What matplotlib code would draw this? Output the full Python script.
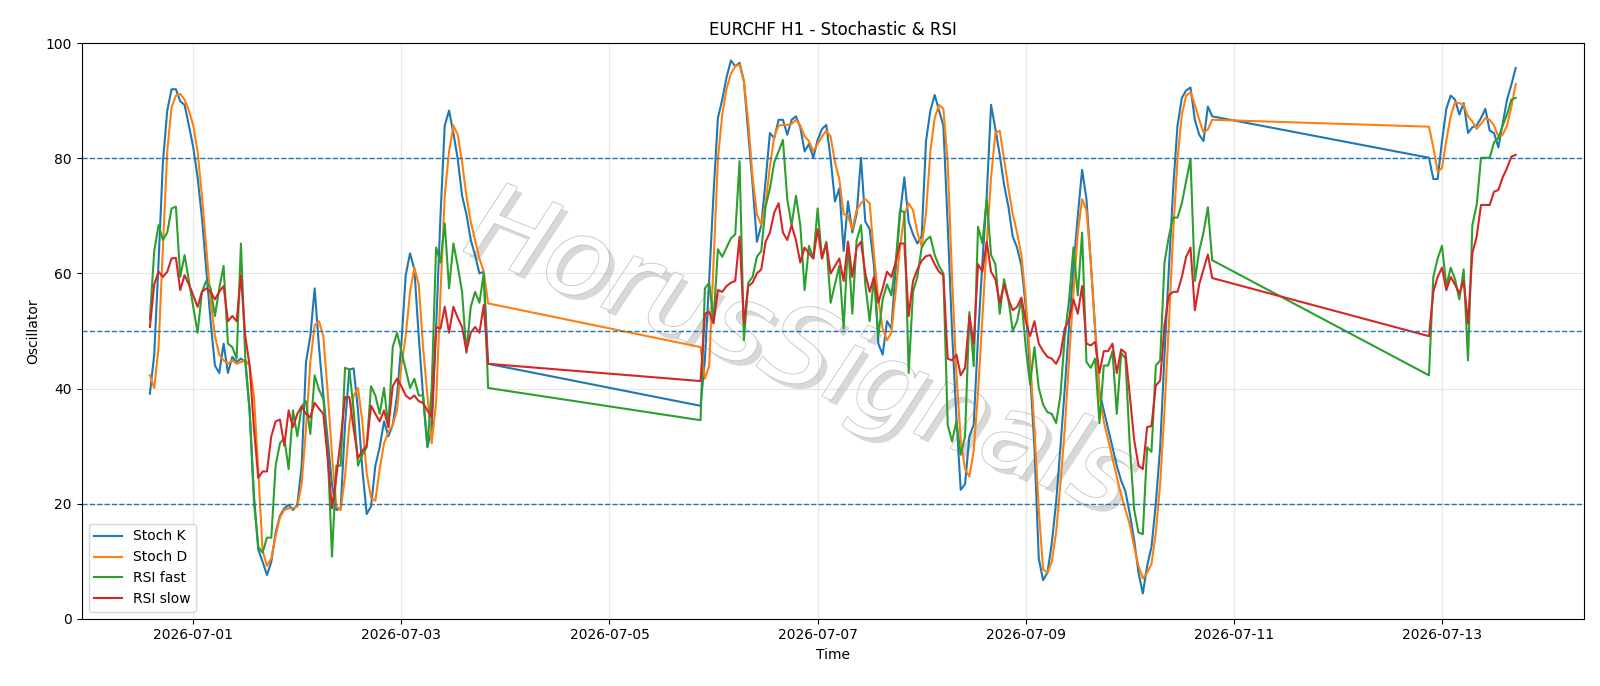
import pandas as pd
import matplotlib
matplotlib.use("Agg")
import matplotlib.pyplot as plt
import matplotlib.dates as mdates
import matplotlib.patheffects as pe

# hourly bars, three trading blocks (weekend gaps in between)
seg1_time = pd.date_range("2026-06-30 14:00", "2026-07-03 20:00", freq="h")
seg2_time = pd.date_range("2026-07-05 21:00", "2026-07-10 19:00", freq="h")
seg3_time = pd.date_range("2026-07-12 21:00", "2026-07-13 17:00", freq="h")

# Stoch K
stoch_k_1 = [39.1, 45.9, 62, 79.3, 88.3, 92, 92, 89.9, 89.3, 85.7, 81.9, 76.7, 69.7, 60.7, 51.7, 44, 42.7, 47.8, 42.7, 45.5,
             44.6, 45.2, 44.6, 36.2, 21.5, 12, 9.9, 7.6, 9.9, 15, 17.9, 19.2, 19.8, 18.9, 19.8, 26.6, 44.6, 49.1, 57.4, 47.2,
             38.8, 31.1, 23.4, 18.9, 19.2, 33.7, 43.3, 43.5, 36.2, 26, 18.2, 19.5, 26.6, 29.8, 34.3, 31.7, 33.7, 38.8, 47.8, 59.7,
             63.5, 60.7, 49.1, 38.8, 29.8, 33, 50.4, 69.7, 85.7, 88.3, 84.4, 79.9, 73.5, 70.3, 65.8, 63.2, 60, 60.3, 44.3]
stoch_k_2 = [37, 45, 59, 74, 87, 90.2, 94.1, 97, 96, 96.6, 93.4, 84.4, 75.4, 65.5, 68.4, 76.1, 84.4, 83.5, 86.7, 86.7,
             84.1, 86.7, 87.3, 85.4, 81.2, 82.5, 80.1, 83.2, 85.1, 85.8, 79.9, 72.5, 74.8, 63.9, 72.5, 67.1, 70.3, 80.1, 69, 67.7,
             61.3, 47.8, 45.9, 51.7, 50.4, 60.7, 70.3, 76.7, 69, 66.8, 65.2, 66.5, 83, 88.3, 91, 88.3, 85.7, 68.4, 50, 35,
             22.4, 23.4, 31.7, 33.7, 49.1, 61.9, 73.5, 89.3, 85.1, 80.6, 75.4, 71.6, 66.4, 64.5, 61.3, 54.2, 42.7, 29.8, 10.5, 6.7,
             8, 13.1, 20.2, 29.8, 40, 51, 61, 70, 78, 72.9, 61.9, 50.4, 39.4, 36.2, 33, 29.8, 26.6, 24, 22.1, 18.2,
             13.7, 8, 4.4, 9.2, 12.5, 20, 29.8, 45.9, 60.7, 74.8, 85.7, 90.5, 91.8, 92.3, 86.7, 84.1, 83, 89, 87.3]
stoch_k_3 = [80.1, 76.4, 76.4, 83, 88.6, 90.9, 90.2, 87.6, 89.6, 84.4, 85.4, 85.7, 87, 88.6, 84.8, 84.4, 81.9, 86, 90.2, 92.8,
             95.7]

# Stoch D
stoch_d_1 = [42.3, 40.1, 47.2, 64.5, 81.2, 88.9, 90.9, 91.2, 90.2, 88.3, 85.7, 81.2, 73.5, 64.5, 55.5, 49.1, 45.9, 44.9, 44.3, 44.9,
             44.3, 44.6, 44.9, 44, 38.8, 25.5, 11.8, 9.2, 10.5, 14.4, 17.6, 18.9, 19.2, 19.2, 19.5, 23.4, 33, 44.6, 51, 51.7,
             49.1, 39.4, 28.5, 19.5, 18.9, 24.7, 33.7, 38.8, 40.1, 34.3, 25.3, 21, 20.5, 26, 30.5, 32.4, 33.7, 36.2, 44, 49.1,
             56.8, 61, 58.1, 47.2, 38.8, 30.5, 37.5, 56.2, 73.5, 81.2, 85.7, 84.1, 79.3, 73.5, 69, 65.8, 62.6, 60.3, 54.8]
stoch_d_2 = [47.2, 41.7, 44, 61.9, 79.9, 87.6, 92.1, 94.7, 96, 96.3, 93.4, 86.4, 76.7, 70.3, 68.4, 72.2, 78.6, 83.8, 85.7, 85.8,
             85.8, 86, 86.7, 85.7, 83.8, 83, 81.2, 82.5, 83.8, 84.8, 83.8, 79.3, 76.4, 70.3, 70, 67.7, 71, 72.2, 72.9, 72.2,
             63.2, 55.5, 50.4, 48.4, 49.7, 56.8, 64.5, 70.3, 72.2, 71, 67.1, 64.7, 70.5, 81.2, 87, 89.3, 88.6, 79.3, 59.4, 42.7,
             31.1, 26, 24.7, 29.2, 39.4, 52.3, 65.2, 76.7, 84.4, 84.8, 79.9, 74.8, 70.3, 67.1, 63.2, 55.5, 45.2, 33, 19, 8.6,
             8, 9.9, 15, 23.4, 33, 45.2, 56.8, 67.1, 72.9, 71, 61.9, 50.4, 38.8, 34.3, 31.1, 27.9, 24.7, 21.5, 18.9, 16.3,
             12.5, 9.2, 7, 8, 9.5, 15, 23.4, 36.2, 51, 67.1, 79.9, 87.6, 90.9, 91.5, 89.3, 86.7, 84.5, 85, 86.7]
stoch_d_3 = [85.5, 81.9, 77.7, 78.3, 83.1, 87.3, 89.7, 89.6, 89.3, 87.3, 86.4, 85.1, 86, 87, 86.7, 85.7, 83.8, 84.1, 85.7, 88.9,
             92.9]

# RSI fast
rsi_fast_1 = [52, 63.9, 68.4, 65.8, 67.1, 71.3, 71.6, 59.4, 63.2, 58.7, 54.2, 49.7, 56.8, 58.7, 57.4, 52.6, 57.4, 61.3, 47.8, 47.2,
              45.2, 65.2, 45.2, 36.2, 20.2, 12.5, 11.5, 14.1, 14.1, 26.6, 30.5, 31.4, 26, 36.2, 31.7, 36.9, 37.8, 32.1, 42.3, 39.8,
              38.2, 29.2, 10.8, 26.6, 26.6, 43.6, 43.3, 36.2, 26.6, 28.5, 29.8, 40.4, 38.8, 35.6, 40.1, 33.3, 47.2, 49.7, 46.5, 43.3,
              40.1, 41.7, 38.8, 38.8, 30, 40.1, 64.5, 61.9, 68.7, 57.4, 65.2, 61.3, 56.8, 46.2, 54.2, 56.8, 54.9, 60, 40.1]
rsi_fast_2 = [34.5, 57.4, 58.4, 51.7, 64.2, 62.9, 64.5, 66.1, 66.8, 79.5, 48.4, 58.4, 59.4, 62.9, 63.9, 71.6, 74.8, 79.3, 81.2, 83.2,
              72.9, 68.4, 73.5, 68.4, 57.1, 64.8, 62.6, 71.3, 62.6, 65.5, 54.9, 58.1, 61.3, 50.4, 65.5, 53, 65.8, 68.4, 58.1, 51.7,
              59.4, 49.1, 55.5, 58.1, 56.2, 61.9, 71, 70.6, 42.7, 56.8, 59.4, 64.5, 65.8, 66.4, 63.2, 61.3, 60, 33.7, 30.8, 34.3,
              28.5, 31.7, 53.3, 43.9, 68.1, 65.2, 72.9, 63.2, 61.6, 53, 59, 55.5, 50, 51.7, 55.5, 47.2, 40.7, 47.2, 40.1, 37.2,
              35.9, 35.6, 34, 38.8, 49.1, 55.5, 64.5, 56.2, 67.1, 44.6, 43.6, 45.2, 34, 44, 44, 46.5, 35.6, 46.2, 45.2, 30,
              19, 15, 14.7, 29.8, 29, 44, 44.9, 61.9, 66.4, 69.7, 69.7, 72.2, 76.1, 79.9, 58.7, 63.9, 67.1, 71.5, 62.3]
rsi_fast_3 = [42.3, 59.4, 62.6, 64.8, 57.8, 61, 59, 55.5, 60.7, 44.9, 68.4, 71.9, 80.1, 80.1, 80.1, 82.8, 83.5, 85.7, 87.6, 90.2,
              90.5]

# RSI slow
rsi_slow_1 = [50.7, 58.1, 60.3, 59.4, 60.3, 62.6, 62.7, 57.1, 59.7, 58.1, 56.2, 54.2, 56.8, 57.4, 56.8, 55.5, 56.8, 57.8, 51.7, 52.6,
              51.7, 59.7, 49.1, 44, 33, 24.5, 25.6, 25.6, 31.7, 34.3, 34.6, 30.1, 36.2, 33.3, 35.6, 36.9, 35.6, 35, 37.5, 36.5,
              35.6, 27.9, 19.2, 24.7, 31.1, 38.5, 38.5, 33, 27.9, 29.2, 30.1, 37, 35.6, 34.3, 36.2, 33.3, 40.4, 41.7, 40.4, 38.8,
              38.2, 38.8, 37.8, 37.5, 36.2, 35, 50.7, 50.4, 54.2, 49.7, 54.2, 52.3, 50.7, 46.5, 49.7, 50.7, 49.7, 54.5, 44.3]
rsi_slow_2 = [41.3, 53, 53.3, 51.3, 57.1, 56.8, 57.8, 58.4, 58.7, 66.4, 51.3, 57.8, 58.4, 60, 60.7, 65.5, 67.1, 70.6, 72.2, 67.1,
              65.8, 68.4, 65.8, 61.9, 64.5, 63.5, 62.6, 67.7, 62.6, 65.2, 60, 61.3, 62.6, 58.7, 65.5, 59.4, 64.5, 65.5, 60, 56.8,
              59.4, 54.9, 57.4, 60.3, 59.4, 61.9, 65.2, 65.2, 52.6, 58.7, 60.7, 62.2, 63, 63.2, 61.6, 60.3, 59.7, 45.2, 44.9, 45.9,
              42.3, 43.6, 52.6, 47.8, 61.6, 60.3, 65.5, 60.3, 59, 54.9, 58.1, 55.5, 53.6, 54.2, 55.8, 51.7, 49.1, 51.7, 47.8, 46.5,
              45.5, 45.2, 44.3, 45.9, 50.4, 52, 55.5, 53, 57.8, 47.8, 47.5, 48.1, 42.7, 46.5, 46.5, 47.8, 42.7, 46.8, 46.2, 38.8,
              31.1, 26.6, 26, 33.3, 33.5, 40.5, 41.4, 51, 56.2, 56.8, 56.8, 59.4, 62.9, 64.5, 53.6, 58.1, 60.7, 63.3, 59.2]
rsi_slow_3 = [49.1, 56.8, 59.4, 61, 57.1, 59.4, 58.1, 56.5, 58.7, 51.3, 63.5, 66.4, 71.9, 71.9, 71.9, 74.2, 74.5, 76.7, 78.3, 80.3,
              80.6]

time = seg1_time.append(seg2_time).append(seg3_time)
df = pd.DataFrame({
    "stoch_k": stoch_k_1 + stoch_k_2 + stoch_k_3,
    "stoch_d": stoch_d_1 + stoch_d_2 + stoch_d_3,
    "rsi_fast": rsi_fast_1 + rsi_fast_2 + rsi_fast_3,
    "rsi_slow": rsi_slow_1 + rsi_slow_2 + rsi_slow_3,
}, index=time)

fig, ax = plt.subplots(figsize=(16, 6.86), dpi=100)
fig.subplots_adjust(left=0.051, right=0.99, top=0.937, bottom=0.098)

ax.plot(df.index, df["stoch_k"], label="Stoch K")
ax.plot(df.index, df["stoch_d"], label="Stoch D")
ax.plot(df.index, df["rsi_fast"], label="RSI fast")
ax.plot(df.index, df["rsi_slow"], label="RSI slow")

# overbought / mid / oversold levels
for level in [80, 50, 20]:
    ax.axhline(level, linestyle="--", linewidth=1, color="C0")

ax.set_ylim(0, 100)
ax.set_title("EURCHF H1 - Stochastic & RSI")
ax.set_xlabel("Time")
ax.set_ylabel("Oscillator")
ax.grid(True, alpha=0.3)
ax.legend(loc="lower left")
ax.xaxis.set_major_locator(mdates.DayLocator(bymonthday=[1, 3, 5, 7, 9, 11, 13]))
ax.xaxis.set_major_formatter(mdates.DateFormatter("%Y-%m-%d"))

# watermark
ax.text(0.478, 0.46, "HorusSignals", transform=ax.transAxes, fontsize=78, style="italic",
        color="white", rotation=-22, ha="center", va="center", zorder=0.5,
        path_effects=[pe.withSimplePatchShadow(offset=(4, -4), shadow_rgbFace="gray", alpha=0.3),
                      pe.Stroke(linewidth=1.2, foreground="#c4c4c4"), pe.Normal()])

plt.savefig("out.png")
